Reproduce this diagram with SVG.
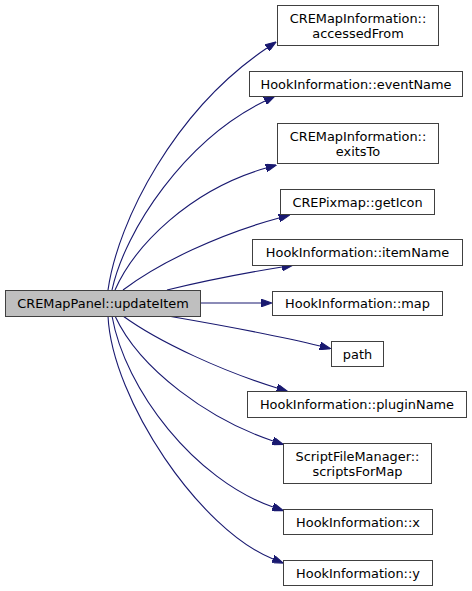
<svg xmlns="http://www.w3.org/2000/svg" width="472" height="591" viewBox="0 0 472 591">
<style>
.n rect{fill:#ffffff;stroke:#404040;stroke-width:1}
.n.main rect{fill:#bfbfbf}
.n text{font-family:"DejaVu Sans",sans-serif;font-size:12.9px;fill:#000;text-anchor:middle}
.e path{fill:none;stroke:#191970;stroke-width:1.1;marker-end:url(#ah)}
</style>
<defs>
<marker id="ah" viewBox="0 0 10 7" refX="0" refY="3.5" markerWidth="11" markerHeight="8" markerUnits="userSpaceOnUse" orient="auto">
<path d="M0,0 L10,3.5 L0,7 z" fill="#191970" stroke="#191970" stroke-width="1"/>
</marker>
</defs>
<g id="edges" class="e">
<path d="M108,290 C118,220 175,110 267,48"/>
<path d="M112,290 C125,230 185,140 265,101"/>
<path d="M115,290 C135,245 190,190 266,168"/>
<path d="M123,290 C160,262 220,234 279,218"/>
<path d="M167,290 C200,282 245,273 282,267"/>
<path d="M200,303 L261,303"/>
<path d="M168,316 C220,325 280,336 320,346"/>
<path d="M123,316 C160,343 225,372 277,388"/>
<path d="M115,316 C140,370 210,420 273,441"/>
<path d="M112,316 C125,390 195,480 273,507"/>
<path d="M108,316 C112,400 200,530 273,559"/>
</g>
<g id="main" class="n main"><rect x="5.5" y="290.5" width="195" height="26"/><text x="103" y="307.5">CREMapPanel::updateItem</text></g>
<g id="accessedFrom" class="n"><rect x="277.5" y="5.5" width="161" height="40"/><text x="358" y="22.5">CREMapInformation::</text><text x="358" y="37.5">accessedFrom</text></g>
<g id="eventName" class="n"><rect x="249.5" y="71.5" width="213" height="25"/><text x="356" y="88.5">HookInformation::eventName</text></g>
<g id="exitsTo" class="n"><rect x="277.5" y="123.5" width="161" height="40"/><text x="358" y="140.5">CREMapInformation::</text><text x="358" y="155.5">exitsTo</text></g>
<g id="getIcon" class="n"><rect x="280.5" y="189.5" width="154" height="25"/><text x="357.5" y="206.5">CREPixmap::getIcon</text></g>
<g id="itemName" class="n"><rect x="252.5" y="239.5" width="210" height="26"/><text x="357.5" y="256.5">HookInformation::itemName</text></g>
<g id="map" class="n"><rect x="272.5" y="291.5" width="170" height="24"/><text x="357.5" y="307.5">HookInformation::map</text></g>
<g id="path" class="n"><rect x="331.5" y="341.5" width="52" height="25"/><text x="357.5" y="358.5">path</text></g>
<g id="pluginName" class="n"><rect x="247.5" y="391.5" width="219" height="26"/><text x="357" y="408.5">HookInformation::pluginName</text></g>
<g id="scriptsForMap" class="n"><rect x="283.5" y="443.5" width="148" height="40"/><text x="357.5" y="460.5">ScriptFileManager::</text><text x="357.5" y="475.5">scriptsForMap</text></g>
<g id="x" class="n"><rect x="283.5" y="509.5" width="149" height="25"/><text x="358" y="526.5">HookInformation::x</text></g>
<g id="y" class="n"><rect x="283.5" y="560.5" width="149" height="25"/><text x="358" y="577.5">HookInformation::y</text></g>
</svg>
